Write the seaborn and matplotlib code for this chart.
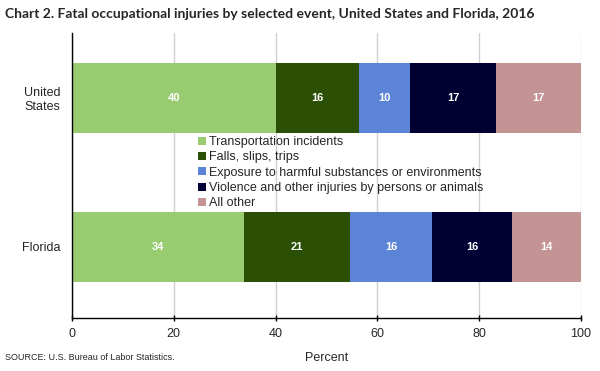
import matplotlib
matplotlib.use("Agg")
import matplotlib.pyplot as plt
import seaborn as sns
import pandas as pd
import numpy as np
from matplotlib.patches import Patch

regions = ["United\nStates", "Florida"]
events = ["Transportation incidents", "Falls, slips, trips",
          "Exposure to harmful substances or environments",
          "Violence and other injuries by persons or animals", "All other"]
transport = [40.0, 33.8]
falls = [16.3, 20.8]
exposure = [10.2, 16.2]
violence = [16.8, 15.6]
other = [16.7, 13.6]
colors = ["#99CC70", "#2A4F05", "#5B84D6", "#000033", "#C49393"]

series = [transport, falls, exposure, violence, other]
sns.set_theme(style="white")
plt.rcParams['font.family'] = ['Liberation Sans', 'DejaVu Sans']

fig = plt.figure(figsize=(6, 3.71), dpi=100)
ax = fig.add_axes([72/600, 1-318/371, 509/600, 285/371])

vals = np.array(series)  # shape (5, 2)
cum = np.cumsum(vals, axis=0)
for i in range(len(events)-1, -1, -1):
    df = pd.DataFrame({"region": regions, "value": cum[i]})
    sns.barplot(data=df, x="value", y="region", orient="y", color=colors[i],
                saturation=1, width=0.47, linewidth=0, ax=ax, zorder=2)

for i in range(len(events)):
    for j in range(len(regions)):
        left = cum[i][j] - vals[i][j]
        ax.text(left + vals[i][j]/2, j, f"{vals[i][j]:.0f}", ha="center", va="center",
                color="white", fontsize=8, fontweight="bold", zorder=5)

ax.set_xlim(0, 100)
ax.set_ylim(1.477, -0.436)
ax.set_xticks([0, 20, 40, 60, 80, 100])
ax.xaxis.grid(True, color="#D0D0D0", linewidth=1, zorder=0)
ax.set_axisbelow(True)
ax.set_ylabel("")
ax.set_xlabel("Percent", fontsize=9, labelpad=8)
for s in ["top", "right"]:
    ax.spines[s].set_visible(False)
for s in ["left", "bottom"]:
    ax.spines[s].set_color("black")
    ax.spines[s].set_linewidth(1)
ax.tick_params(axis="x", direction="inout", length=5, width=1, color="black",
               labelsize=9, pad=5, bottom=True)
ax.tick_params(axis="y", length=0, labelsize=9, pad=8)
for lab in ax.get_yticklabels():
    lab.set_multialignment("center")

handles = [Patch(facecolor=c, edgecolor="none", label=e) for c, e in zip(colors, events)]
fig.legend(handles=handles, loc="upper left", bbox_to_anchor=(198/600, 1-136/371),
           frameon=False, fontsize=9, handlelength=0.6, handleheight=0.6,
           handletextpad=0.25, labelspacing=0.27, borderpad=0, borderaxespad=0)

fig.text(5/600, 1-14/371, "Chart 2. Fatal occupational injuries by selected event, United States and Florida, 2016",
         fontsize=10, fontweight="bold", va="center", ha="left", family=["Lato", "DejaVu Sans"])
fig.text(5/600, 1-358/371, "SOURCE: U.S. Bureau of Labor Statistics.", fontsize=6.5,
         va="center", ha="left")

fig.savefig("out.png", dpi=100)
